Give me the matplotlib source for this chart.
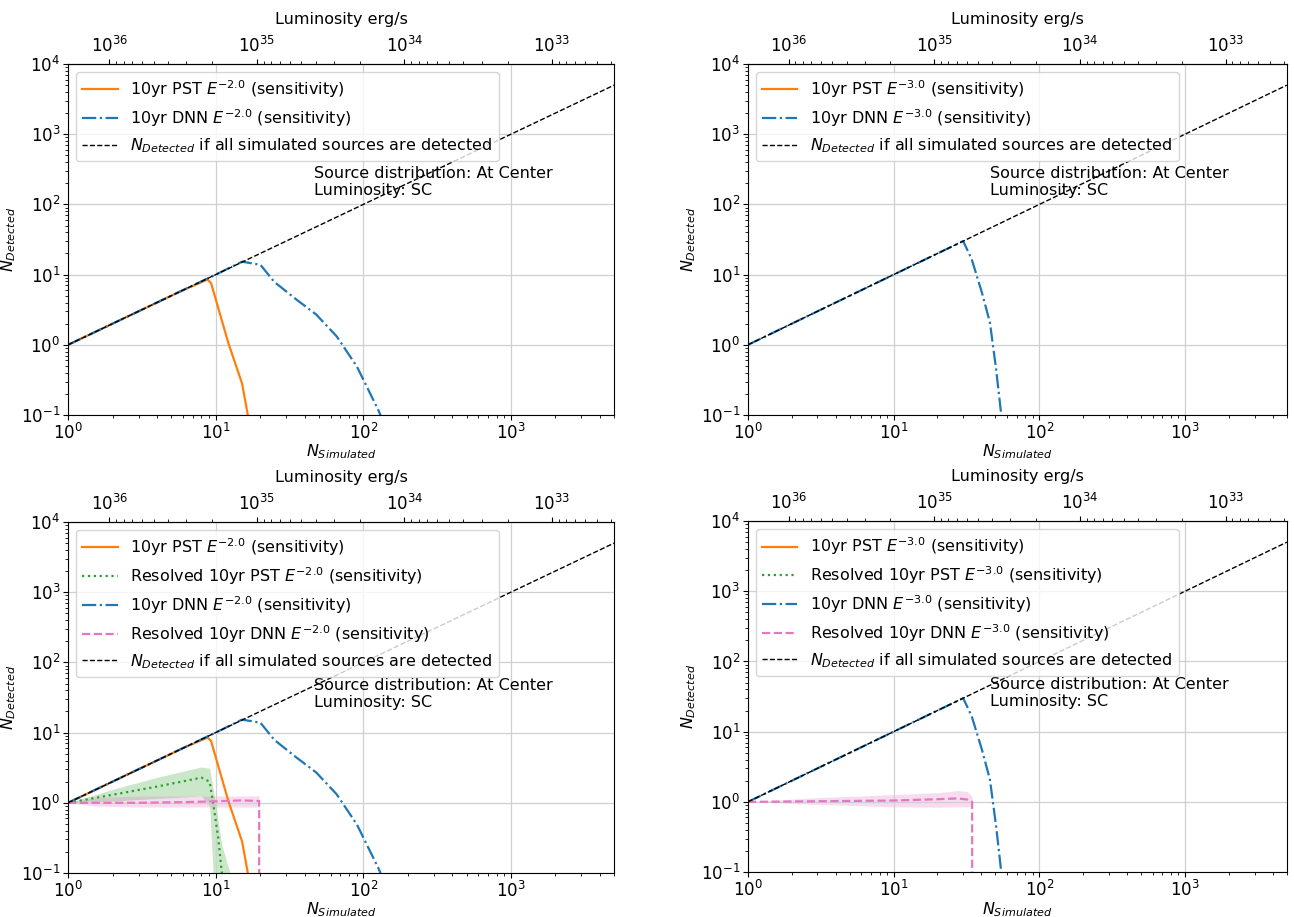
import matplotlib.pyplot as plt
import numpy as np
from matplotlib.ticker import NullFormatter

# luminosity (erg/s) times N_simulated
LUM_TIMES_N = 1.9e36
lum_ticks = [1e36, 1e35, 1e34, 1e33]

diag_n = [1, 5000]

# ---- E^-2.0 ----
pst2_n = [1, 2, 4, 6, 8.8, 9.3, 12.2, 15.1, 16.5, 17]
pst2_y = [1, 2, 4, 6, 8.5, 7.6, 1.05, 0.28, 0.1, 0.06]
dnn2_n = [1, 5, 10, 15.1, 20.1, 24.9, 35, 47.9, 66, 90.5, 127, 140]
dnn2_y = [1, 5, 10, 15.3, 13.8, 7.9, 4.46, 2.71, 1.32, 0.49, 0.115, 0.07]

rpst2_n = [1, 2, 4, 8.0, 9.1, 9.6, 10.4, 11.0, 12.5]
rpst2_y = [1, 1.3, 1.7, 2.28, 2.0, 1.0, 0.32, 0.1, 0.02]
rpst2_lo = [1, 1.06, 1.15, 1.25, 0.9, 0.1, 0.01, 0.005, 0.001]
rpst2_hi = [1, 1.55, 2.3, 3.24, 3.1, 1.6, 0.55, 0.25, 0.1]

rdnn2_n = [1, 1.5, 3, 6, 10, 15, 19.7, 20]
rdnn2_y = [1, 1.0, 1.0, 1.02, 1.05, 1.08, 1.06, 0]
rdnn2_lo = [1, 0.9, 0.87, 0.87, 0.87, 0.87, 0.87]
rdnn2_hi = [1, 1.2, 1.25, 1.25, 1.25, 1.25, 1.25]

# ---- E^-3.0 ----
pst3_n = [1, 5000]
pst3_y = [0, 0]
dnn3_n = [1, 10, 30, 34.3, 40.3, 45.8, 50.5, 54.8, 57]
dnn3_y = [1, 10, 30, 16.7, 5.6, 2.08, 0.45, 0.1, 0.05]

rpst3_n = [1, 5000]
rpst3_y = [0, 0]

rdnn3_n = [1, 3, 10, 20, 27.6, 32, 34.6, 35]
rdnn3_y = [1, 1.02, 1.045, 1.09, 1.12, 1.08, 1.0, 0]
rdnn3_lo = [1, 0.92, 0.85, 0.84, 0.85, 0.85, 0.85]
rdnn3_hi = [1, 1.15, 1.27, 1.35, 1.45, 1.4, 1.2]

FS_TICK = 12
FS_LAB = 11.5
FS_LEG = 11.5


def n_to_lum(n):
    n = np.asarray(n, dtype=float)
    return LUM_TIMES_N / np.where(n > 0, n, 1e-300)


def lum_to_n(l):
    l = np.asarray(l, dtype=float)
    return LUM_TIMES_N / np.where(l > 0, l, 1e-300)


def setup(ax, text_y):
    ax.set_xscale('log')
    ax.set_yscale('log')
    ax.set_xlim(1, 5000)
    ax.set_ylim(0.1, 1e4)
    ax.grid(which='major', color='#d0d0d0', linewidth=0.9)
    ax.tick_params(labelsize=FS_TICK, pad=2)
    ax.set_xlabel('$N_{Simulated}$', fontsize=FS_LAB, labelpad=0)
    ax.set_ylabel('$N_{Detected}$', fontsize=FS_LAB, labelpad=2)
    sec = ax.secondary_xaxis('top', functions=(n_to_lum, lum_to_n))
    sec.set_xticks(lum_ticks)
    sec.xaxis.set_minor_formatter(NullFormatter())
    sec.tick_params(labelsize=FS_TICK, pad=2)
    sec.set_xlabel('Luminosity erg/s', fontsize=FS_LAB, labelpad=9)
    ax.text(0.45, text_y, 'Source distribution: At Center\nLuminosity: SC',
            transform=ax.transAxes, fontsize=FS_LEG, va='top', ha='left',
            linespacing=1.15)


def panel(ax, idx, pst, dnn, rpst=None, rdnn=None, text_y=0.715):
    lab = '$E^{-%s}$' % idx
    ax.plot(pst[0], pst[1], color='tab:orange', lw=1.6,
            label='10yr PST %s (sensitivity)' % lab)
    if rpst is not None:
        if len(rpst) > 2:
            k = len(rpst[2])
            ax.fill_between(rpst[0][:k], rpst[2], rpst[3], color='tab:green',
                            alpha=0.25, lw=0)
        ax.plot(rpst[0], rpst[1], color='tab:green', ls=':', lw=1.6,
                label='Resolved 10yr PST %s (sensitivity)' % lab)
    ax.plot(dnn[0], dnn[1], color='tab:blue', ls='-.', lw=1.6,
            label='10yr DNN %s (sensitivity)' % lab)
    if rdnn is not None:
        k = len(rdnn[2])
        ax.fill_between(rdnn[0][:k], rdnn[2], rdnn[3], color='tab:pink',
                        alpha=0.25, lw=0)
        ax.plot(rdnn[0], rdnn[1], color='tab:pink', ls='--', lw=1.6,
                label='Resolved 10yr DNN %s (sensitivity)' % lab)
    ax.plot(diag_n, diag_n, color='k', ls='--', lw=1.0,
            label='$N_{Detected}$ if all simulated sources are detected')
    setup(ax, text_y)
    ax.legend(loc='upper left', fontsize=FS_LEG, handlelength=2.2,
              labelspacing=0.45)


fig = plt.figure(figsize=(12.94, 9.17), dpi=100)
ax1 = fig.add_axes([0.0526, 0.5474, 0.4220, 0.3828])
ax2 = fig.add_axes([0.5780, 0.5474, 0.4165, 0.3828])
ax3 = fig.add_axes([0.0526, 0.0480, 0.4220, 0.3828])
ax4 = fig.add_axes([0.5780, 0.0490, 0.4165, 0.3828])

panel(ax1, '2.0', (pst2_n, pst2_y), (dnn2_n, dnn2_y), text_y=0.71)
panel(ax2, '3.0', (pst3_n, pst3_y), (dnn3_n, dnn3_y), text_y=0.71)
panel(ax3, '2.0', (pst2_n, pst2_y), (dnn2_n, dnn2_y),
      rpst=(rpst2_n, rpst2_y, rpst2_lo, rpst2_hi),
      rdnn=(rdnn2_n, rdnn2_y, rdnn2_lo, rdnn2_hi), text_y=0.555)
panel(ax4, '3.0', (pst3_n, pst3_y), (dnn3_n, dnn3_y),
      rpst=(rpst3_n, rpst3_y),
      rdnn=(rdnn3_n, rdnn3_y, rdnn3_lo, rdnn3_hi), text_y=0.555)

fig.savefig('out.png', dpi=100)
